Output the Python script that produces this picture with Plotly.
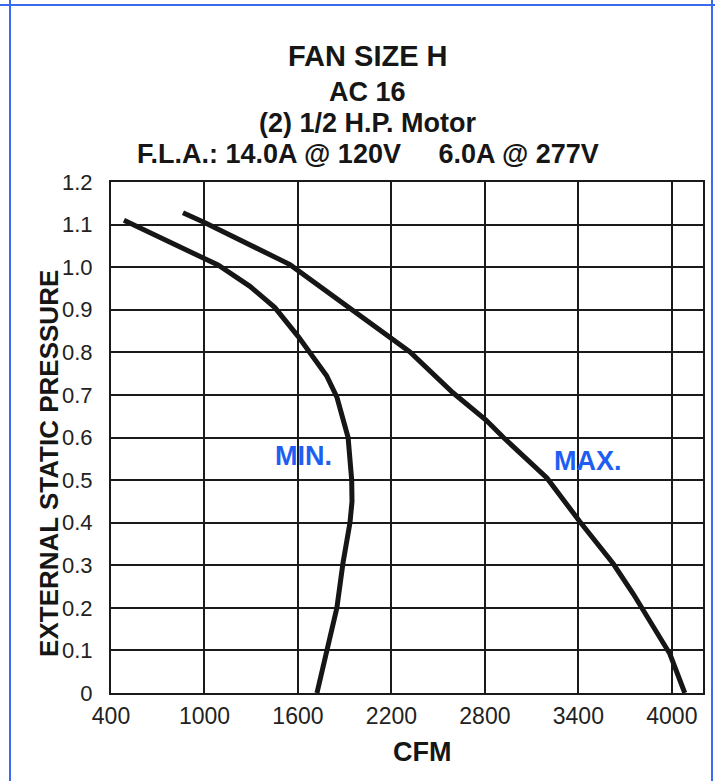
"""
Fan performance curve - Fan Size H, AC 16
External static pressure vs CFM for the MIN. and MAX. fan settings
"""

import plotly.graph_objects as go

# Curve data (CFM, in. w.c.)
min_cfm = [483, 1087, 1292, 1452, 1602, 1677, 1784, 1850, 1895, 1922, 1945, 1947, 1934, 1889, 1850, 1786, 1722]
min_esp = [1.11, 1.005, 0.955, 0.905, 0.837, 0.80, 0.745, 0.695, 0.64, 0.60, 0.50, 0.45, 0.40, 0.305, 0.20, 0.10, 0.0]

max_cfm = [862, 1000, 1549, 1741, 1934, 2126, 2319, 2595, 2807, 2916, 3198, 3410, 3623, 3752, 3880, 3987, 4083]
max_esp = [1.128, 1.105, 1.006, 0.955, 0.904, 0.855, 0.801, 0.705, 0.641, 0.601, 0.505, 0.402, 0.304, 0.233, 0.155, 0.092, 0.0]

x_ticks = [400, 1000, 1600, 2200, 2800, 3400, 4000]
y_ticks = [0, 0.1, 0.2, 0.3, 0.4, 0.5, 0.6, 0.7, 0.8, 0.9, 1.0, 1.1, 1.2]
y_tick_labels = ["0", "0.1", "0.2", "0.3", "0.4", "0.5", "0.6", "0.7", "0.8", "0.9", "1.0", "1.1", "1.2"]

title_lines = [
    "FAN SIZE H",
    "AC 16",
    "(2) 1/2 H.P. Motor",
    "F.L.A.: 14.0A @ 120V\u00a0\u00a0\u00a0\u00a0 6.0A @ 277V",
]

curve_labels = [("MIN.", 1635, 0.556), ("MAX.", 3464, 0.545)]

FONT = "Liberation Sans, Arial, Helvetica, sans-serif"
BLUE = "#1f5ef2"
INK = "#161616"

fig = go.Figure()

fig.add_trace(go.Scatter(x=min_cfm, y=min_esp, mode="lines", name="MIN.",
                         line=dict(color=INK, width=5)))
fig.add_trace(go.Scatter(x=max_cfm, y=max_esp, mode="lines", name="MAX.",
                         line=dict(color=INK, width=5)))

# Title block, one annotation per line
title_pos = [(1.2456, 29), (1.1761, 27), (1.1145, 27), (1.0548, 27)]
for text, (ypos, size) in zip(title_lines, title_pos):
    fig.add_annotation(text=f"<b>{text}</b>", xref="paper", yref="paper",
                       x=0.434, y=ypos, xanchor="center", yanchor="middle",
                       showarrow=False, font=dict(family=FONT, size=size, color=INK))

for text, x, y in curve_labels:
    fig.add_annotation(text=f"<b>{text}</b>", x=x, y=y, showarrow=False,
                       xanchor="center", yanchor="middle",
                       font=dict(family=FONT, size=27, color=BLUE))

# Axis titles
fig.add_annotation(text="<b>EXTERNAL STATIC PRESSURE</b>", xref="paper", yref="paper",
                   x=-0.105, y=0.450, textangle=-90, showarrow=False,
                   xanchor="center", yanchor="middle",
                   font=dict(family=FONT, size=26, color=INK))
fig.add_annotation(text="<b>CFM</b>", xref="paper", yref="paper",
                   x=0.525, y=-0.1155, showarrow=False,
                   xanchor="center", yanchor="middle",
                   font=dict(family=FONT, size=27, color=INK))

# Blue frame of the surrounding table cell
frame = dict(color="#3a6af0", width=2)
fig.add_shape(type="line", xref="paper", yref="paper", x0=-0.19, x1=1.03, y0=1.3464, y1=1.3464, line=frame)
fig.add_shape(type="line", xref="paper", yref="paper", x0=-0.1706, x1=-0.1706, y0=-0.18, y1=1.36, line=frame)
fig.add_shape(type="line", xref="paper", yref="paper", x0=1.0152, x1=1.0152, y0=-0.18, y1=1.36, line=frame)

fig.update_layout(
    width=715, height=781,
    margin=dict(l=111, r=12, t=182, b=88, autoexpand=False),
    paper_bgcolor="white", plot_bgcolor="white",
    showlegend=False,
    font=dict(family=FONT, color="#222"),
)

fig.update_xaxes(range=[400, 4200], tickvals=x_ticks, showgrid=True,
                 gridcolor="#1a1a1a", gridwidth=1.8, zeroline=False,
                 showline=True, linecolor="#1a1a1a", linewidth=2, mirror=True,
                 ticks="", ticklabelstandoff=1, tickfont=dict(size=23), automargin=False)
fig.update_yaxes(range=[0, 1.2], tickvals=y_ticks, ticktext=y_tick_labels, showgrid=True,
                 gridcolor="#1a1a1a", gridwidth=1.8, zeroline=False,
                 showline=True, linecolor="#1a1a1a", linewidth=2, mirror=True,
                 ticks="", ticklabelstandoff=12, tickfont=dict(size=22), automargin=False)

# page body margin would shift the fixed-size figure by 8px
fig.write_html("out.html", config={"displayModeBar": False},
               post_script="document.body.style.margin='0';")
